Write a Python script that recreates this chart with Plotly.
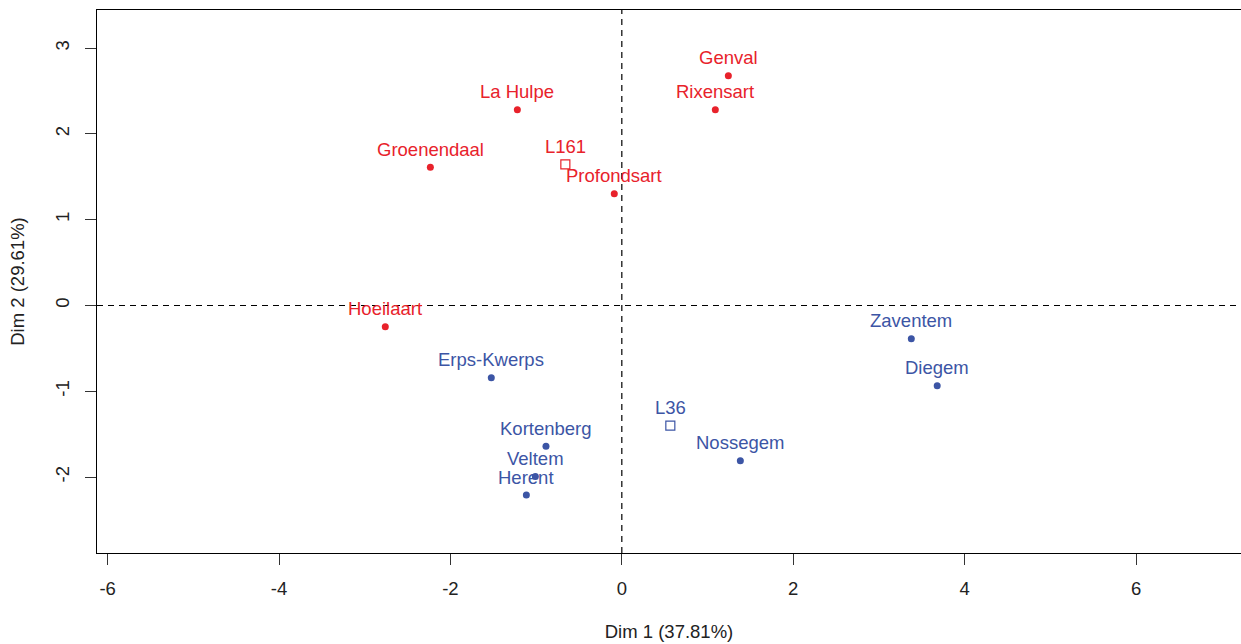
import plotly.graph_objects as go

# Data
red_names = ["Genval", "Rixensart", "La Hulpe", "Groenendaal", "Profondsart", "Hoeilaart"]
red_x = [1.243, 1.091, -1.219, -2.234, -0.088, -2.760]
red_y = [2.678, 2.282, 2.282, 1.610, 1.303, -0.247]

blue_names = ["Zaventem", "Diegem", "Erps-Kwerps", "Nossegem", "Kortenberg", "Veltem", "Herent"]
blue_x = [3.378, 3.680, -1.523, 1.383, -0.885, -1.009, -1.114]
blue_y = [-0.387, -0.935, -0.841, -1.809, -1.642, -1.992, -2.209]

sup_names = ["L161", "L36"]
sup_x = [-0.659, 0.566]
sup_y = [1.645, -1.401]

x_ticks = [-6, -4, -2, 0, 2, 4, 6]
y_ticks = [-2, -1, 0, 1, 2, 3]

RED = "#E8222B"
BLUE = "#3C55A5"
FONT = "Liberation Sans, Arial, sans-serif"
FS = 18.5

fig = go.Figure()
fig.add_trace(go.Scatter(x=red_x, y=red_y, mode="markers",
                         marker=dict(color=RED, size=7, symbol="circle"), showlegend=False))
fig.add_trace(go.Scatter(x=blue_x, y=blue_y, mode="markers",
                         marker=dict(color=BLUE, size=7, symbol="circle"), showlegend=False))
fig.add_trace(go.Scatter(x=[sup_x[0]], y=[sup_y[0]], mode="markers",
                         marker=dict(color="white", size=9, symbol="square",
                                     line=dict(color=RED, width=1.2)), showlegend=False))
fig.add_trace(go.Scatter(x=[sup_x[1]], y=[sup_y[1]], mode="markers",
                         marker=dict(color="white", size=9, symbol="square",
                                     line=dict(color=BLUE, width=1.2)), showlegend=False))

annotations = []
for names, xs, ys, col in [(red_names, red_x, red_y, RED), (blue_names, blue_x, blue_y, BLUE),
                           (sup_names[:1], sup_x[:1], sup_y[:1], RED), (sup_names[1:], sup_x[1:], sup_y[1:], BLUE)]:
    for n, xv, yv in zip(names, xs, ys):
        annotations.append(dict(x=xv, y=yv, text=n, showarrow=False, xanchor="center",
                                yanchor="middle", yshift=18,
                                font=dict(color=col, size=FS, family=FONT)))

fig.add_shape(type="line", xref="x", yref="paper", x0=0, x1=0, y0=0, y1=1,
              line=dict(color="black", width=1.2, dash="6px,5px"))
fig.add_shape(type="line", xref="paper", yref="y", x0=0, x1=1, y0=0, y1=0,
              line=dict(color="black", width=1.2, dash="6px,5px"))

fig.update_layout(
    width=1241, height=644,
    margin=dict(l=97, r=0, t=10, b=91),
    plot_bgcolor="white", paper_bgcolor="white",
    font=dict(family=FONT, size=FS, color="#222222"),
    annotations=annotations,
    hovermode=False,
    xaxis=dict(range=[-6.124, 7.225], tickvals=x_ticks, ticktext=[str(v) for v in x_ticks],
               showgrid=False, zeroline=False, showline=True, linecolor="black", linewidth=1.2,
               mirror=True, ticks="outside", ticklen=11, tickcolor="#333333", tickwidth=1.2,
               ticklabelstandoff=8,
               title=dict(text="Dim 1 (37.81%)", standoff=26, font=dict(size=FS)),
               tickfont=dict(size=FS)),
    yaxis=dict(range=[-2.885, 3.444], tickvals=y_ticks, ticktext=[str(v) for v in y_ticks],
               showgrid=False, zeroline=False, showline=True, linecolor="black", linewidth=1.2,
               mirror=False, ticks="outside", ticklen=11, tickcolor="#333333", tickwidth=1.2,
               tickangle=-90, ticklabelstandoff=9,
               title=dict(text="Dim 2 (29.61%)", standoff=22, font=dict(size=FS)),
               tickfont=dict(size=FS)),
)

fig.write_html(
    "out.html",
    config={"displayModeBar": False},
    post_script="document.body.style.margin='0';document.body.style.overflow='hidden';"
                "document.documentElement.style.overflow='hidden';",
)
